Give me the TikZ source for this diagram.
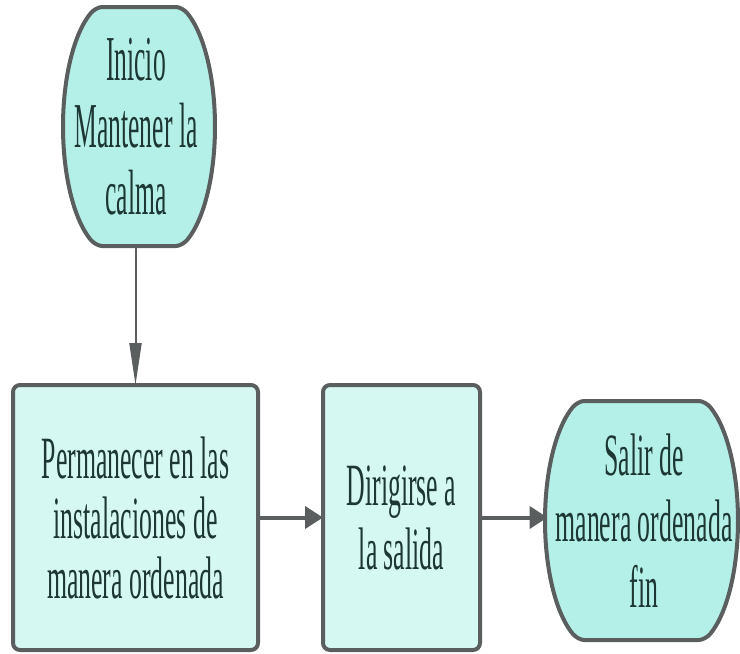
\documentclass[tikz,border=0pt]{standalone}
\usepackage{fontspec}
\newfontfamily\condfont[FakeStretch=0.43]{Liberation Serif}
\newfontfamily\condfontB[FakeStretch=0.40]{Liberation Serif}
\usetikzlibrary{arrows.meta}
\definecolor{termfill}{HTML}{B4F0E8}
\definecolor{boxfill}{HTML}{D6F8F2}
\definecolor{edgegray}{HTML}{5A5E5E}
\definecolor{txt}{HTML}{1D3834}
\begin{document}
\begin{tikzpicture}[x=1pt,y=-1pt,
  lbl/.style={align=center, text=txt, inner sep=0pt, outer sep=0pt},
  shapeline/.style={draw=edgegray, line width=4pt, line join=round},
  termshape/.style={shapeline, fill=termfill},
  stepbox/.style={lbl, shapeline, fill=boxfill, rounded corners=7pt, minimum height=265pt},
  flow/.style={draw=edgegray, line width=4pt, -{Triangle[length=18pt,width=22pt]}},
  thinflow/.style={draw=edgegray, line width=2pt, -{Triangle[length=42pt,width=12pt]}}]
\useasboundingbox (0,0) rectangle (740,654);

% start terminator
\path[termshape] (102,7) -- (176,7)
  .. controls (179.5,7) and (184.8,10.1) .. (187.3,13.2)
  .. controls (204.2,33.7) and (215,77.9) .. (215,126.5)
  .. controls (215,175.1) and (204.2,219.3) .. (187.3,239.8)
  .. controls (184.8,242.9) and (179.5,246) .. (176,246)
  -- (102,246)
  .. controls (98.5,246) and (93.2,242.9) .. (90.7,239.8)
  .. controls (73.8,219.3) and (63,175.1) .. (63,126.5)
  .. controls (63,77.9) and (73.8,33.7) .. (90.7,13.2)
  .. controls (93.2,10.1) and (98.5,7) .. (102,7) -- cycle;
\node[lbl, minimum width=152pt, minimum height=239pt,
      font={\condfontB\fontsize{64}{67}\selectfont}] (start) at (136,126.5)
  {Inicio\\Mantener la\\calma};

% end terminator
\path[termshape] (584,401) -- (699,401)
  .. controls (702.5,401) and (707.8,404.1) .. (710.3,407.2)
  .. controls (727.2,427.7) and (738,471.9) .. (738,520.5)
  .. controls (738,569.1) and (727.2,613.3) .. (710.3,633.8)
  .. controls (707.8,636.9) and (702.5,640) .. (699,640)
  -- (584,640)
  .. controls (580.5,640) and (575.2,636.9) .. (572.7,633.8)
  .. controls (555.8,613.3) and (545,569.1) .. (545,520.5)
  .. controls (545,471.9) and (555.8,427.7) .. (572.7,407.2)
  .. controls (575.2,404.1) and (580.5,401) .. (584,401) -- cycle;
\node[lbl, minimum width=193pt, minimum height=239pt,
      font={\condfont\fontsize{60}{66}\selectfont}] (finish) at (644,520.5)
  {Salir de\\manera ordenada\\fin};

% boxes
\node[stepbox, minimum width=245pt, font={\condfont\fontsize{60}{60}\selectfont}] (b1) at (135.5,517.5)
  {Permanecer en las\\instalaciones de\\manera ordenada};
\node[stepbox, minimum width=157pt, font={\condfont\fontsize{60}{64}\selectfont}] (b2) at (401.5,517.5)
  {Dirigirse a\\la salida};

% connectors
\draw[thinflow] (start.south -| b1.north) -- (b1.north);
\draw[flow] (b1.east) -- (b2.west);
\draw[flow] (b2.east) -- (b2.east -| finish.west);
\end{tikzpicture}
\end{document}
